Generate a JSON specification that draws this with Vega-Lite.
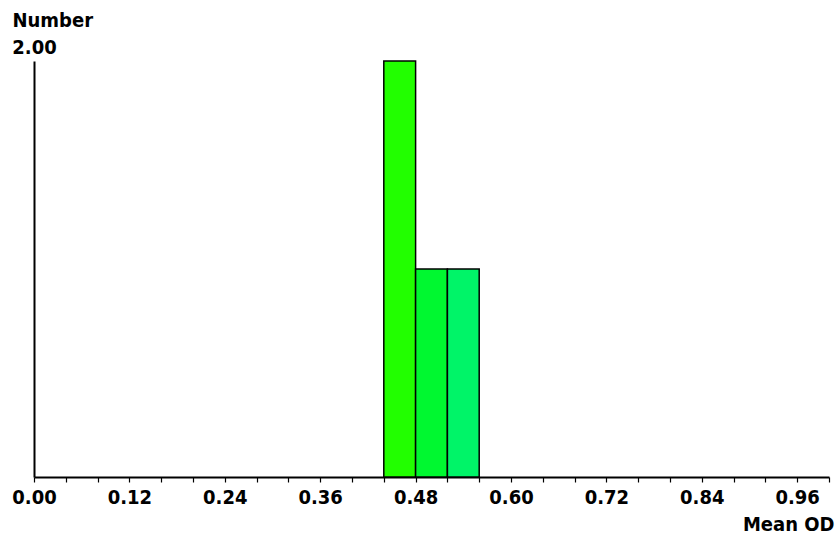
{
  "$schema": "https://vega.github.io/schema/vega-lite/v6.json",
  "autosize": {"type": "none"},
  "width": 795,
  "height": 416,
  "padding": {"left": 34, "top": 61, "right": 6, "bottom": 59},
  "background": "white",
  "config": {
    "view": {"stroke": null},
    "font": "DejaVu Sans Condensed"
  },
  "data": {
    "values": [
      {"bin": "0.44-0.48", "start": 0.44, "end": 0.48, "count": 2},
      {"bin": "0.48-0.52", "start": 0.48, "end": 0.52, "count": 1},
      {"bin": "0.52-0.56", "start": 0.52, "end": 0.56, "count": 1}
    ]
  },
  "mark": {"type": "rect", "stroke": "black", "strokeWidth": 1.5},
  "encoding": {
    "x": {
      "field": "start",
      "type": "quantitative",
      "scale": {"domain": [0, 1], "nice": false, "zero": false},
      "axis": {
        "values": [0, 0.04, 0.08, 0.12, 0.16, 0.2, 0.24, 0.28, 0.32, 0.36, 0.4, 0.44, 0.48, 0.52, 0.56, 0.6, 0.64, 0.68, 0.72, 0.76, 0.8, 0.84, 0.88, 0.92, 0.96, 1.0],
        "labelExpr": "abs(datum.value / 0.12 - round(datum.value / 0.12)) < 0.01 && datum.value < 0.99 ? format(datum.value, '.2f') : ''",
        "grid": false,
        "ticks": true,
        "domainColor": "black",
        "domainWidth": 2,
        "tickSize": 5,
        "tickColor": "black",
        "tickWidth": 1.2,
        "labelPadding": 5,
        "labelFont": "DejaVu Sans Condensed",
        "labelFontWeight": "bold",
        "labelFontSize": 20,
        "labelColor": "black",
        "labelAlign": "center",
        "labelDx": 10,
        "labelBaseline": "top",
        "labelFlush": false,
        "labelOverlap": false,
        "title": "Mean OD",
        "titleFont": "DejaVu Sans Condensed",
        "titleFontWeight": "bold",
        "titleFontSize": 20,
        "titleColor": "black",
        "titleAlign": "right",
        "titleAnchor": null,
        "titleX": 800,
        "titleY": 53,
        "titleBaseline": "alphabetic"
      }
    },
    "x2": {"field": "end"},
    "y": {
      "field": "count",
      "type": "quantitative",
      "scale": {"domain": [0, 2], "nice": false},
      "axis": {
        "values": [2],
        "format": ".2f",
        "grid": false,
        "ticks": false,
        "domainColor": "black",
        "domainWidth": 2,
        "labelPadding": 0,
        "labelAlign": "center",
        "labelBaseline": "alphabetic",
        "labelDx": -1,
        "labelOffset": -8,
        "labelFont": "DejaVu Sans Condensed",
        "labelFontWeight": "bold",
        "labelFontSize": 20,
        "labelColor": "black",
        "labelFlush": false,
        "title": "Number",
        "titleFont": "DejaVu Sans Condensed",
        "titleFontWeight": "bold",
        "titleFontSize": 20,
        "titleColor": "black",
        "titleAngle": 0,
        "titleAlign": "left",
        "titleAnchor": null,
        "titleBaseline": "alphabetic",
        "titleX": -22,
        "titleY": -35
      }
    },
    "y2": {"datum": 0},
    "color": {
      "field": "bin",
      "type": "nominal",
      "scale": {"domain": ["0.44-0.48", "0.48-0.52", "0.52-0.56"], "range": ["#22ff00", "#00f830", "#00f468"]},
      "legend": null
    }
  }
}
